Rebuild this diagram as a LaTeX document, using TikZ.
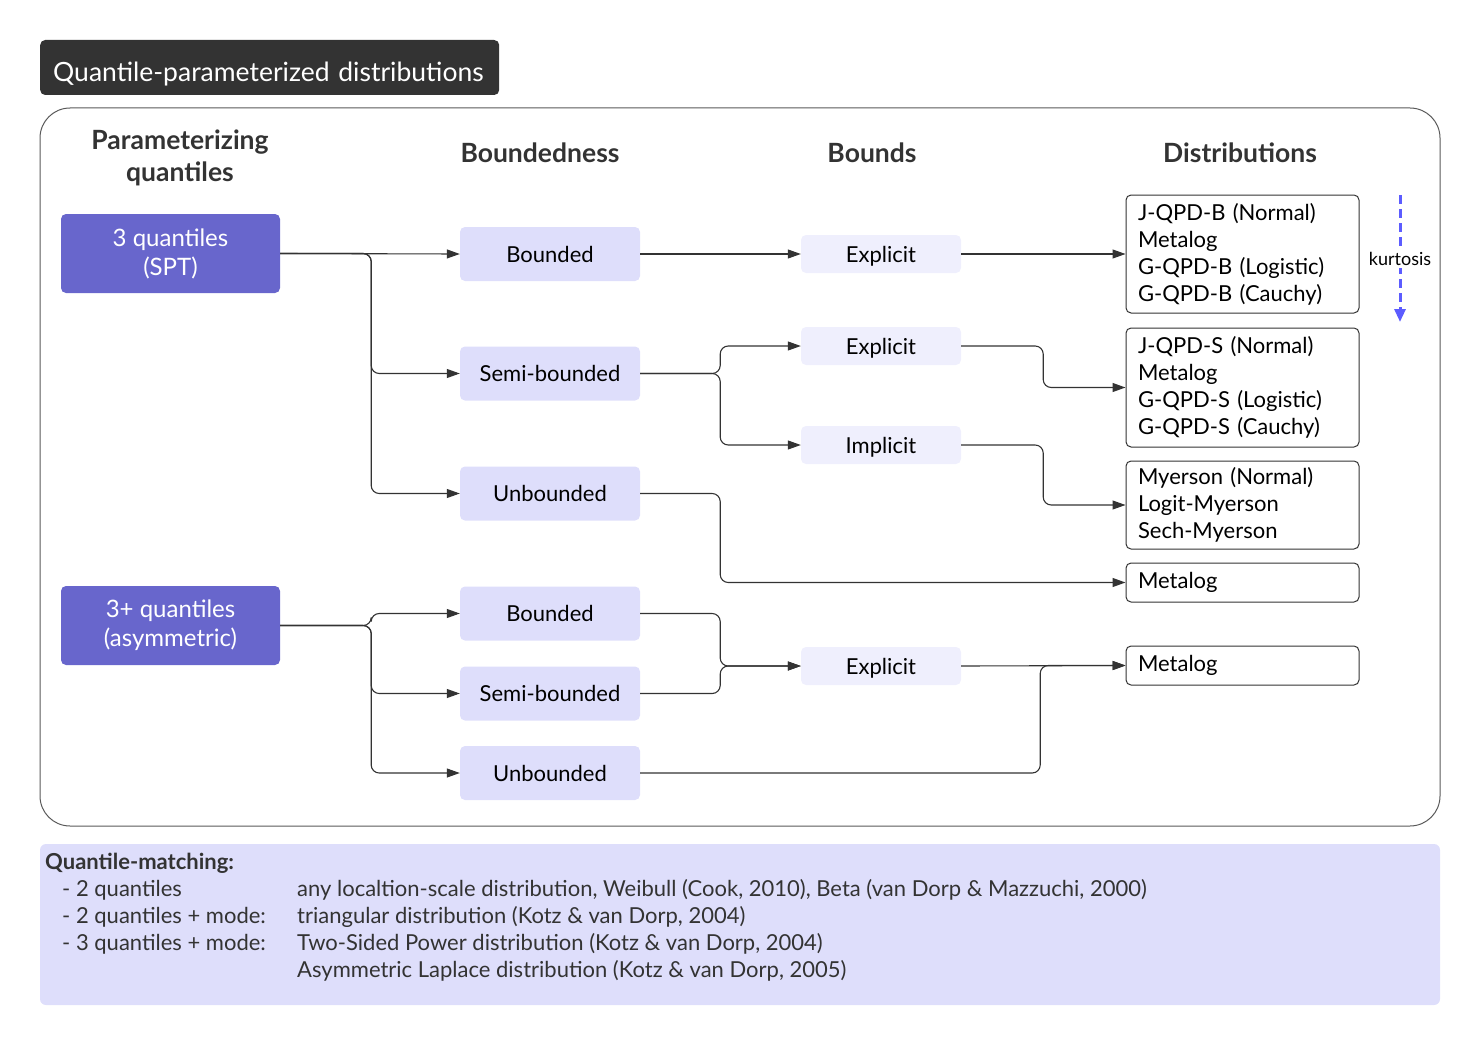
\documentclass[tikz,border=0pt]{standalone}
\usepackage{fontspec}
\setmainfont{Lato}
\usetikzlibrary{arrows.meta}
\definecolor{titlebg}{HTML}{333333}
\definecolor{quantbg}{RGB}{104,102,204}
\definecolor{bndbg}{RGB}{222,222,251}
\definecolor{bdsbg}{RGB}{239,239,253}
\definecolor{linec}{HTML}{333333}
\definecolor{kurtc}{RGB}{92,92,255}
\begin{document}
\begin{tikzpicture}[x=1pt,y=-1pt,
  every node/.style={font=\fontsize{22}{27}\selectfont},
  hdr/.style={text=titlebg,align=center,font=\bfseries\fontsize{26.5}{32}\selectfont},
  quant/.style={fill=quantbg,text=white,rounded corners=5pt,minimum width=219pt,minimum height=79pt,align=center,font=\fontsize{24}{29}\selectfont},
  bnd/.style={fill=bndbg,rounded corners=5pt,minimum width=180pt,minimum height=54pt},
  bds/.style={fill=bdsbg,rounded corners=5pt,minimum width=160pt,minimum height=38pt,text depth=0pt},
  dist/.style={draw=linec,line width=1pt,rounded corners=5pt,align=left,inner xsep=12pt,text width=209pt},
  conn/.style={draw=linec,line width=1.1pt,rounded corners=8pt,-{Triangle[length=13pt,width=9pt]}},
  qmtext/.style={anchor=base west,inner sep=0pt,text=titlebg}]
\useasboundingbox (0,0) rectangle (1480,1046);
\node[fill=titlebg,text=white,rounded corners=5pt,anchor=west,minimum height=55pt,inner xsep=13pt,inner ysep=2pt,text width=433pt,text height=29pt,text depth=0pt,font=\fontsize{26.5}{30}\selectfont] (title) at (40,67.5) {Quantile-parameterized distributions};
\draw[draw=gray!70!black,line width=1pt,rounded corners=30pt] (40,108) rectangle (1440,826);
\fill[bndbg,rounded corners=6pt] (40,844) rectangle (1440,1005);

\node[hdr] (hq) at (180,158) {Parameterizing\\quantiles};
\node[hdr] (hb) at (540,153) {Boundedness};
\node[hdr] (hbs) at (872,153) {Bounds};
\node[hdr] (hd) at (1240,153) {Distributions};

\node[quant] (q1) at (170.5,253.5) {3 quantiles\\(SPT)};
\node[quant] (q2) at (170.5,625.5) {3+ quantiles\\(asymmetric)};

\node[bnd] (b1) at (550,254) {Bounded};
\node[bnd] (sb1) at (550,373.5) {Semi-bounded};
\node[bnd] (ub1) at (550,493.5) {Unbounded};
\node[bnd] (b2) at (550,613.5) {Bounded};
\node[bnd] (sb2) at (550,693.5) {Semi-bounded};
\node[bnd] (ub2) at (550,773) {Unbounded};

\node[bds] (e1) at (881,254) {Explicit};
\node[bds] (e2) at (881,346) {Explicit};
\node[bds] (im) at (881,445) {Implicit};
\node[bds] (e3) at (881,666) {Explicit};

\node[dist,minimum height=118pt] (d1) at (1242.5,254) {J-QPD-B (Normal)\\Metalog\\G-QPD-B (Logistic)\\G-QPD-B (Cauchy)};
\node[dist,minimum height=119pt] (d2) at (1242.5,387.5) {J-QPD-S (Normal)\\Metalog\\G-QPD-S (Logistic)\\G-QPD-S (Cauchy)};
\node[dist,minimum height=88pt] (d3) at (1242.5,505) {Myerson (Normal)\\Logit-Myerson\\Sech-Myerson};
\node[dist,minimum height=39pt] (d4) at (1242.5,582.5) {Metalog};
\node[dist,minimum height=39pt] (d5) at (1242.5,665.5) {Metalog};

\coordinate (k1) at (1400,195);
\coordinate (k2) at (1400,322);
\draw[kurtc,line width=3pt,dash pattern=on 9pt off 5pt,-{Triangle[length=13pt,width=11pt]}] (k1) -- (k2);
\node[fill=white,inner sep=2pt,font=\fontsize{18}{20}\selectfont] (kurt) at (1400,259) {kurtosis};

\draw[conn] (q1.east) -- (b1.west);
\draw[conn] (q1.east) -- ++(91,0) |- (sb1);
\draw[conn] (q1.east) -- ++(91,0) |- (ub1);
\draw[conn] (q2.east) -- ++(91,0) |- (b2);
\draw[conn] (q2.east) -- ++(91,0) |- (sb2);
\draw[conn] (q2.east) -- ++(91,0) |- (ub2);
\draw[conn] (b1.east) -- (e1.west);
\draw[conn] (sb1.east) -- ++(80,0) |- (e2);
\draw[conn] (sb1.east) -- ++(80,0) |- (im);
\draw[conn] (ub1.east) -- ++(80,0) |- (d4);
\draw[conn] (b2.east) -- ++(80,0) |- (e3);
\draw[conn] (sb2.east) -- ++(80,0) |- (e3);
\draw[conn] (e1.east) -- (d1.west);
\draw[conn] (e2.east) -- ++(82,0) |- (d2);
\draw[conn] (im.east) -- ++(82,0) |- (d3);
\draw[conn] (e3.east) -- (d5.west);
\draw[conn] (ub2.east) -- ++(400,0) |- (d5);

\node[qmtext,font=\bfseries\fontsize{22}{26}\selectfont] (qm) at (45,869) {Quantile-matching:};
\node[qmtext] (qm1) at (62,896) {- 2 quantiles};
\node[qmtext] (qm2) at (62,923) {- 2 quantiles + mode:};
\node[qmtext] (qm3) at (62,950) {- 3 quantiles + mode:};
\node[qmtext] (qr1) at (297,896) {any localtion-scale distribution, Weibull (Cook, 2010), Beta (van Dorp \& Mazzuchi, 2000)};
\node[qmtext] (qr2) at (297,923) {triangular distribution (Kotz \& van Dorp, 2004)};
\node[qmtext] (qr3) at (297,950) {Two-Sided Power distribution (Kotz \& van Dorp, 2004)};
\node[qmtext] (qr4) at (297,977) {Asymmetric Laplace distribution (Kotz \& van Dorp, 2005)};
\end{tikzpicture}
\end{document}
